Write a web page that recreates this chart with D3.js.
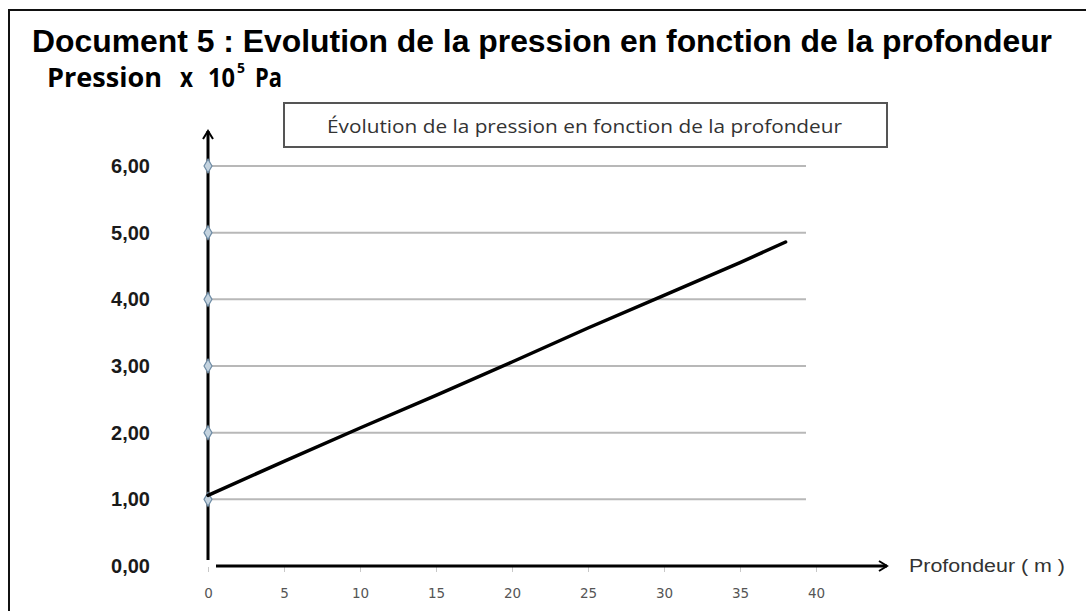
<!DOCTYPE html>
<html>
<head>
<meta charset="utf-8">
<script src="https://cdn.jsdelivr.net/npm/d3@7"></script>
<style>
  body { margin: 0; background: #fff; }
  svg { display: block; }
  text { white-space: pre; }
</style>
</head>
<body>
<div id="chart"></div>
<script>
// Values
var depths = [0, 5, 10, 15, 20, 25, 30, 35, 38];          // m
var pressures = [1.06, 1.57, 2.07, 2.56, 3.06, 3.57, 4.06, 4.55, 4.86]; // x 10^5 Pa
var yTicks = [0, 1, 2, 3, 4, 5, 6];
var xTicks = [0, 5, 10, 15, 20, 25, 30, 35, 40];

var docTitle = "Document 5 : Evolution de la pression en fonction de la profondeur";
var chartTitle = "Évolution de la pression en fonction de la profondeur";
var xLabel = "Profondeur ( m )";

var width = 1086, height = 611;

var svg = d3.select("#chart").append("svg")
  .attr("width", width)
  .attr("height", height);

// arrow marker for the axes
var defs = svg.append("defs");
defs.append("marker")
  .attr("id", "arrow")
  .attr("viewBox", "0 0 12 12")
  .attr("refX", 10).attr("refY", 6)
  .attr("markerWidth", 12).attr("markerHeight", 12)
  .attr("markerUnits", "userSpaceOnUse")
  .attr("orient", "auto")
  .append("path")
  .attr("d", "M2,1 L10,6 L2,11")
  .attr("fill", "none")
  .attr("stroke", "#000")
  .attr("stroke-width", 2);

// document frame (left + top edges only visible)
svg.append("path")
  .attr("d", "M9," + height + " V10 H" + width)
  .attr("fill", "none")
  .attr("stroke", "#111")
  .attr("stroke-width", 2);

svg.append("text")
  .attr("x", 32).attr("y", 52)
  .attr("font-family", "'Liberation Sans', Arial, sans-serif")
  .attr("font-weight", "bold")
  .attr("font-size", 32)
  .attr("textLength", 1020)
  .attr("lengthAdjust", "spacingAndGlyphs")
  .attr("fill", "#000")
  .text(docTitle);

// unit label: Pression x 10^5 Pa
var unitFont = "'Open Sans', 'Noto Sans', sans-serif";
function unitText(str, xPos, yPos, size, len) {
  var t = svg.append("text")
    .attr("x", xPos).attr("y", yPos)
    .attr("font-family", unitFont)
    .attr("font-weight", "bold")
    .attr("font-size", size)
    .attr("fill", "#000")
    .text(str);
  if (len) t.attr("textLength", len).attr("lengthAdjust", "spacingAndGlyphs");
  return t;
}
unitText("Pression", 47, 87, 26, 115);
unitText("x", 180, 87, 26, 13);
unitText("10", 208, 87, 26, 27);
unitText("5", 237, 73, 15, 8);
unitText("Pa", 255, 87, 26, 27);

// scales
var x = d3.scaleLinear().domain([0, 40]).range([208, 816]);
var y = d3.scaleLinear().domain([0, 6]).range([566, 166]);

// chart title box
svg.append("rect")
  .attr("x", 284).attr("y", 103)
  .attr("width", 603).attr("height", 44)
  .attr("fill", "#fff")
  .attr("stroke", "#555")
  .attr("stroke-width", 2);
svg.append("text")
  .attr("x", 327).attr("y", 133)
  .attr("font-family", "'Open Sans', 'Noto Sans', sans-serif")
  .attr("font-size", 19)
  .attr("textLength", 515)
  .attr("lengthAdjust", "spacingAndGlyphs")
  .attr("fill", "#333")
  .text(chartTitle);

// horizontal gridlines
svg.append("g")
  .selectAll("line")
  .data(yTicks.filter(function(d) { return d > 0; }))
  .join("line")
  .attr("x1", x(0)).attr("x2", 806)
  .attr("y1", function(d) { return y(d); })
  .attr("y2", function(d) { return y(d); })
  .attr("stroke", "#b8b8b8")
  .attr("stroke-width", 2);

// y axis labels
var yAxis = d3.axisLeft(y)
  .tickValues(yTicks)
  .tickSize(0)
  .tickPadding(58)
  .tickFormat(function(d) { return d3.format(".2f")(d).replace(".", ","); });

svg.append("g")
  .attr("transform", "translate(" + x(0) + ",0)")
  .call(yAxis)
  .call(function(g) { g.select(".domain").remove(); })
  .selectAll("text")
  .attr("font-family", "'Liberation Sans', Arial, sans-serif")
  .attr("font-weight", "bold")
  .attr("font-size", 20)
  .attr("fill", "#1a1a1a");

// x axis labels + small ticks
var xAxis = d3.axisBottom(x)
  .tickValues(xTicks)
  .tickSize(5)
  .tickPadding(16);

var gx = svg.append("g")
  .attr("transform", "translate(0," + (y(0) + 1) + ")")
  .call(xAxis)
  .call(function(g) { g.select(".domain").remove(); });
gx.selectAll("line").attr("stroke", "#c8c8c8");
gx.selectAll("text")
  .attr("font-family", "'DejaVu Sans', Verdana, sans-serif")
  .attr("font-size", 13.5)
  .attr("fill", "#555");

// axes with arrows
svg.append("line")
  .attr("x1", x(0)).attr("y1", 560)
  .attr("x2", x(0)).attr("y2", 131)
  .attr("stroke", "#000")
  .attr("stroke-width", 3)
  .attr("marker-end", "url(#arrow)");

svg.append("line")
  .attr("x1", 216).attr("y1", y(0))
  .attr("x2", 887).attr("y2", y(0))
  .attr("stroke", "#000")
  .attr("stroke-width", 3)
  .attr("marker-end", "url(#arrow)");

svg.append("text")
  .attr("x", 909).attr("y", 572)
  .attr("font-family", "'Liberation Sans', Arial, sans-serif")
  .attr("font-size", 18)
  .attr("textLength", 156)
  .attr("lengthAdjust", "spacingAndGlyphs")
  .attr("fill", "#333")
  .text(xLabel);

// diamond markers on the y axis
svg.append("g")
  .selectAll("path")
  .data(yTicks.filter(function(d) { return d > 0; }))
  .join("path")
  .attr("d", d3.symbol(d3.symbolDiamond, 55))
  .attr("transform", function(d) { return "translate(" + x(0) + "," + y(d) + ")"; })
  .attr("fill", "#c4d3df")
  .attr("stroke", "#6f8ca5")
  .attr("stroke-width", 1.2);

// data line
var line = d3.line()
  .x(function(d, i) { return x(depths[i]); })
  .y(function(d) { return y(d); });

svg.append("path")
  .datum(pressures)
  .attr("d", line)
  .attr("fill", "none")
  .attr("stroke", "#000")
  .attr("stroke-width", 3.5)
  .attr("stroke-linecap", "round");
</script>
</body>
</html>
